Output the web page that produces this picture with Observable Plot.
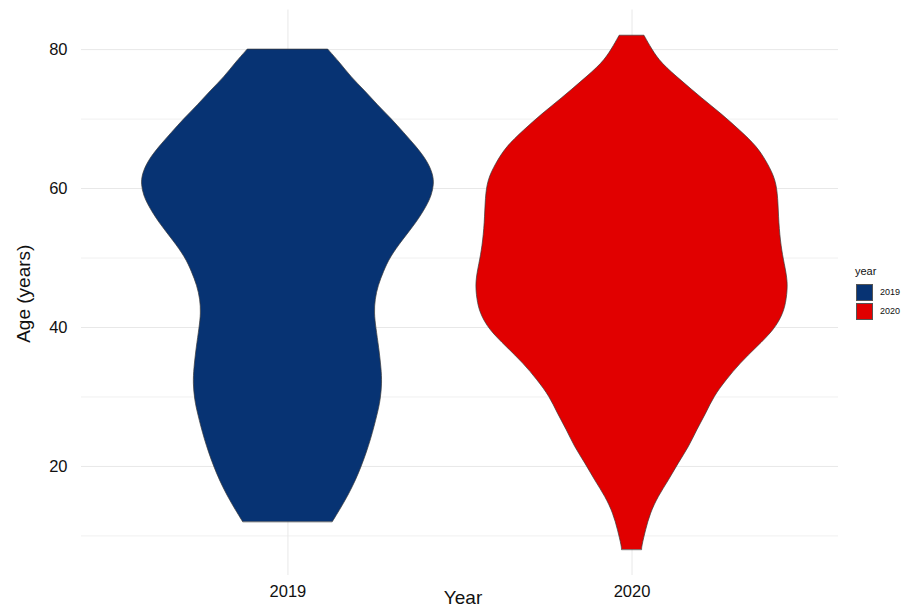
<!DOCTYPE html>
<html>
<head>
<meta charset="utf-8">
<script src="https://cdn.jsdelivr.net/npm/d3@7"></script>
<script src="https://cdn.jsdelivr.net/npm/@observablehq/plot@0.6"></script>
<style>
  html, body { margin: 0; padding: 0; background: #fff; }
  #wrap { position: relative; width: 912px; height: 606px; font-family: Arial, "Liberation Sans", Helvetica, sans-serif; }
  #legend { position: absolute; left: 855px; top: 265px; font-family: Arial, "Liberation Sans", sans-serif; color: #111; }
  #legend .title { font-size: 11px; margin-bottom: 5px; line-height: 13px; }
  #legend .row { display: flex; align-items: center; height: 18px; margin-bottom: 1px; }
  #legend .key { width: 17px; height: 17px; border: 0.6px solid #555; box-sizing: border-box; margin-left: 1px; margin-right: 7px; }
  #legend .lab { font-size: 9px; }
</style>
</head>
<body>
<div id="wrap"><div id="chart"></div><div id="legend"></div></div>
<script>
// Categories and colours
const years = ["2019", "2020"];
const colors = ["#073373", "#E10000"];

// Violin outlines: age (years) and relative density width (1 = widest violin)
const ages2019 = [12, 16, 20, 24, 27.5, 29.5, 32, 34, 37, 40, 42, 44, 46, 48, 50, 52.5, 55, 57.5, 59, 60.5, 62, 64, 66, 68, 70, 72, 74, 76, 78, 80];
const dens2019 = [0.29, 0.40, 0.48, 0.54, 0.58, 0.60, 0.61, 0.605, 0.59, 0.57, 0.56, 0.565, 0.585, 0.62, 0.66, 0.74, 0.83, 0.90, 0.93, 0.945, 0.94, 0.90, 0.83, 0.75, 0.67, 0.58, 0.50, 0.41, 0.34, 0.26];

const ages2020 = [8, 8.4, 10.8, 13.2, 15.6, 18, 20.4, 22.8, 25.2, 27.6, 30, 32.4, 34.8, 37.2, 39.6, 42, 44, 46.5, 49.2, 51.6, 55, 58.7, 61.2, 63.5, 66, 68.3, 70.7, 73, 75.5, 78, 80, 82];
const dens2020 = [0.065, 0.065, 0.09, 0.12, 0.17, 0.24, 0.30, 0.37, 0.42, 0.48, 0.53, 0.61, 0.70, 0.81, 0.92, 0.98, 1.0, 1.01, 0.985, 0.965, 0.95, 0.945, 0.93, 0.88, 0.81, 0.70, 0.58, 0.45, 0.32, 0.19, 0.13, 0.08];

const yMajor = [20, 40, 60, 80];
const yMinor = [10, 30, 50, 70];

const halfMax = 0.45; // ggplot violin width 0.9
const rows = [];
[[ages2019, dens2019], [ages2020, dens2020]].forEach(([ages, dens], i) => {
  ages.forEach((a, j) => rows.push({year: years[i], pos: i + 1, age: a, d: dens[j]}));
});

const chart = Plot.plot({
  width: 912,
  height: 606,
  marginLeft: 81,
  marginRight: 74,
  marginTop: 9.5,
  marginBottom: 31,
  style: {fontFamily: "Arial, 'Liberation Sans', sans-serif", background: "#fff", color: "#111"},
  x: {domain: [0.4, 2.6], axis: null},
  y: {domain: [4.3, 85.7], axis: null},
  color: {domain: years, range: colors},
  marks: [
    Plot.ruleY(yMinor, {stroke: "#f0f0f0", strokeWidth: 1}),
    Plot.ruleY(yMajor, {stroke: "#e8e8e8", strokeWidth: 1}),
    Plot.ruleX([1, 2], {stroke: "#e8e8e8", strokeWidth: 1}),
    Plot.areaX(rows, {
      y: "age",
      x1: r => r.pos - halfMax * r.d,
      x2: r => r.pos + halfMax * r.d,
      z: "year",
      fill: "year",
      stroke: "#3a3a3a",
      strokeWidth: 0.7,
      curve: "basis"
    }),
    Plot.axisY(yMajor, {tickSize: 0, tickPadding: 14, fontSize: 16.5, label: null}),
    Plot.axisX([1, 2], {tickSize: 0, tickPadding: 10, fontSize: 16.5, label: null, tickFormat: d => years[d - 1]}),
    Plot.text(["Year"], {text: d => d, frameAnchor: "bottom", lineAnchor: "bottom", dy: 28, dx: 3, fontSize: 19}),
    Plot.text(["Age (years)"], {text: d => d, frameAnchor: "left", textAnchor: "middle", lineAnchor: "bottom", rotate: -90, dx: -52, dy: 1, fontSize: 19})
  ]
});
document.getElementById("chart").appendChild(chart);

const leg = document.getElementById("legend");
leg.innerHTML = `<div class="title">year</div>` + years.map((y, i) =>
  `<div class="row"><div class="key" style="background:${colors[i]}"></div><span class="lab">${y}</span></div>`).join("");
</script>
</body>
</html>
